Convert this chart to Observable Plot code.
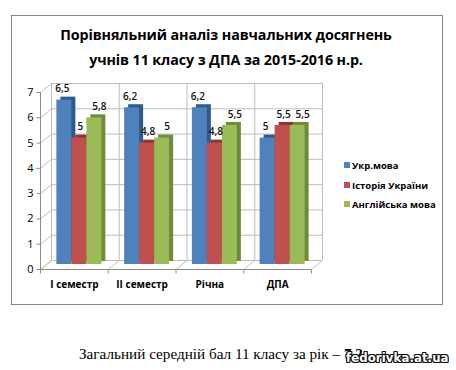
<!DOCTYPE html>
<html>
<head>
<meta charset="utf-8">
<script src="https://cdn.jsdelivr.net/npm/d3@7"></script>
<script src="https://cdn.jsdelivr.net/npm/@observablehq/plot@0.6"></script>
<style>
  html, body { margin: 0; padding: 0; background: #fff; }
  body { width: 456px; height: 370px; position: relative; overflow: hidden; font-family: "Open Sans", "Noto Sans", sans-serif; }
  #box { position: absolute; left: 11px; top: 15px; width: 430px; height: 288px; border: 1px solid #878787; }
  #title { position: absolute; left: 11px; top: 22px; width: 430px; text-align: center; font-weight: bold; font-size: 14.3px; line-height: 25px; color: #000; letter-spacing: -0.1px; }
  #chart { position: absolute; left: 0; top: 70px; }
  #legend { position: absolute; left: 344px; top: 160px; font-size: 9.5px; font-weight: bold; color: #000; }
  #legend div { height: 19.5px; line-height: 12px; white-space: nowrap; }
  #legend span.sw { display: inline-block; width: 6px; height: 6px; margin-right: 2px; vertical-align: 1px; }
  #caption { position: absolute; left: 79px; top: 345px; font-family: "Liberation Serif", "Times New Roman", serif; font-size: 15.2px; color: #000; white-space: nowrap; }
  #wm { position: absolute; left: 346px; top: 350px; font-family: "DejaVu Sans Condensed", "DejaVu Sans", sans-serif; font-weight: bold; font-size: 13px; color: #fff; letter-spacing: 0.1px;
        text-shadow: 1px 0 0 #111, -1px 0 0 #111, 0 1px 0 #111, 0 -1px 0 #111, 1px 1px 0 #111, -1px -1px 0 #111, 1px -1px 0 #111, -1px 1px 0 #111; }
</style>
</head>
<body>
<div id="box"></div>
<div id="title">Порівняльний аналіз навчальних досягнень<br>учнів 11 класу з ДПА за 2015-2016 н.р.</div>
<div id="chart"></div>
<div id="legend"></div>
<div id="caption"></div>
<div id="wm">fedorivka.at.ua</div>
<script>
// ---- data ----
const categories = ["I семестр", "II семестр", "Річна", "ДПА"];
const seriesNames = ["Укр.мова", "Історія України", "Англійська мова"];
const ukrMova = [6.5, 6.2, 6.2, 5];
const istoriya = [5, 4.8, 4.8, 5.5];
const anglMova = [5.8, 5, 5.5, 5.5];
const yTicks = [0, 1, 2, 3, 4, 5, 6, 7];
const captionText = "Загальний середній бал 11 класу за рік – ";
const captionValue = "7,2";

const colors = ["#4F81BD", "#C0504D", "#9BBB59"];
const sideColors = ["#2F5A8E", "#8E3431", "#6E8A3A"];
const labelDx = [-2, 1, 5];

const seriesValues = [ukrMova, istoriya, anglMova];
const rows = [];
categories.forEach((c, i) => seriesNames.forEach((s, j) => rows.push({cat: c, ci: i, series: s, sj: j, value: seriesValues[j][i]})));

// ---- layout ----
const W = 330, H = 225, ML = 45, MR = 14, MT = 17, MB = 31;
const PX = categories.length / (W - ML - MR);   // data units per px (x)
const PY = 7 / (H - MT - MB);                    // data units per px (y)
const FX = -5, FY = 5, BX = 6, BY = -4;          // front / back plane offsets (px)
const barW = 15 * PX;
const x1Of = d => d.ci + 0.5 + (d.sj - 1.5) * barW;
const fmt = v => String(v).replace(".", ",");

const grid = "#bdbdbd", axisCol = "#8c8c8c";
const boundaries = d3.range(categories.length + 1);

const chart = Plot.plot({
  width: W, height: H,
  marginLeft: ML, marginRight: MR, marginTop: MT, marginBottom: MB,
  x: {type: "linear", domain: [0, categories.length], axis: null},
  y: {domain: [0, 7], axis: null},
  style: {fontFamily: "'Open Sans', 'Noto Sans', sans-serif", background: "transparent"},
  marks: [
    // back wall
    Plot.ruleY(yTicks, {y: d => d, dx: BX, dy: BY, stroke: grid}),
    Plot.ruleX(boundaries, {x: d => d, y1: 0, y2: 7, dx: BX, dy: BY, stroke: grid}),
    // left wall diagonals
    Plot.link(yTicks, {x1: () => FX * PX, y1: d => d - FY * PY, x2: () => BX * PX, y2: d => d - BY * PY, stroke: grid}),
    // floor diagonals
    Plot.link(boundaries, {x1: d => d + FX * PX, y1: () => -FY * PY, x2: d => d + BX * PX, y2: () => -BY * PY, stroke: grid}),
    // front axes
    Plot.ruleX([0], {x: d => d, y1: 0, y2: 7, dx: FX, dy: FY, stroke: axisCol}),
    Plot.ruleY([0], {y: d => d, dx: FX, dy: FY, stroke: axisCol}),
    Plot.link(yTicks, {x1: () => (FX - 4) * PX, x2: () => FX * PX, y1: d => d - FY * PY, y2: d => d - FY * PY, stroke: axisCol}),
    Plot.link(boundaries, {x1: d => d + FX * PX, x2: d => d + FX * PX, y1: () => -FY * PY, y2: () => -(FY + 4) * PY, stroke: axisCol}),
    // y tick labels
    Plot.text(yTicks, {x: () => 0, y: d => d, text: d => String(d), dx: FX - 7, dy: FY, textAnchor: "end", fontSize: 11, fill: "#000"}),
    // category labels
    Plot.text(categories, {x: (d, i) => i + 0.5, y: () => 0, text: d => d, dx: FX, dy: 20, fontSize: 10, fontWeight: "bold", fill: "#000"}),
    // bar depth (top + side)
    Plot.rectY(rows, {x1: x1Of, x2: d => x1Of(d) + barW, y1: () => 0, y2: "value", dx: 4, dy: -3, fill: d => sideColors[d.sj]}),
    // bar fronts
    Plot.rectY(rows, {x1: x1Of, x2: d => x1Of(d) + barW, y1: () => 0, y2: "value", fill: d => colors[d.sj]}),
    // value labels (one mark per series)
    ...seriesNames.map((s, j) => Plot.text(rows.filter(d => d.sj === j), {
      x: d => x1Of(d) + barW / 2, y: "value", text: d => fmt(d.value),
      dx: labelDx[j], dy: -11, fontSize: 10, fontWeight: 600, fill: "#111"
    }))
  ]
});
document.getElementById("chart").appendChild(chart);

// legend
const lg = document.getElementById("legend");
seriesNames.forEach((s, j) => {
  const row = document.createElement("div");
  const sw = document.createElement("span");
  sw.className = "sw"; sw.style.background = colors[j];
  row.appendChild(sw);
  row.appendChild(document.createTextNode(s));
  lg.appendChild(row);
});

// caption
const cap = document.getElementById("caption");
cap.appendChild(document.createTextNode(captionText));
const b = document.createElement("b"); b.textContent = captionValue; cap.appendChild(b);
</script>
</body>
</html>
